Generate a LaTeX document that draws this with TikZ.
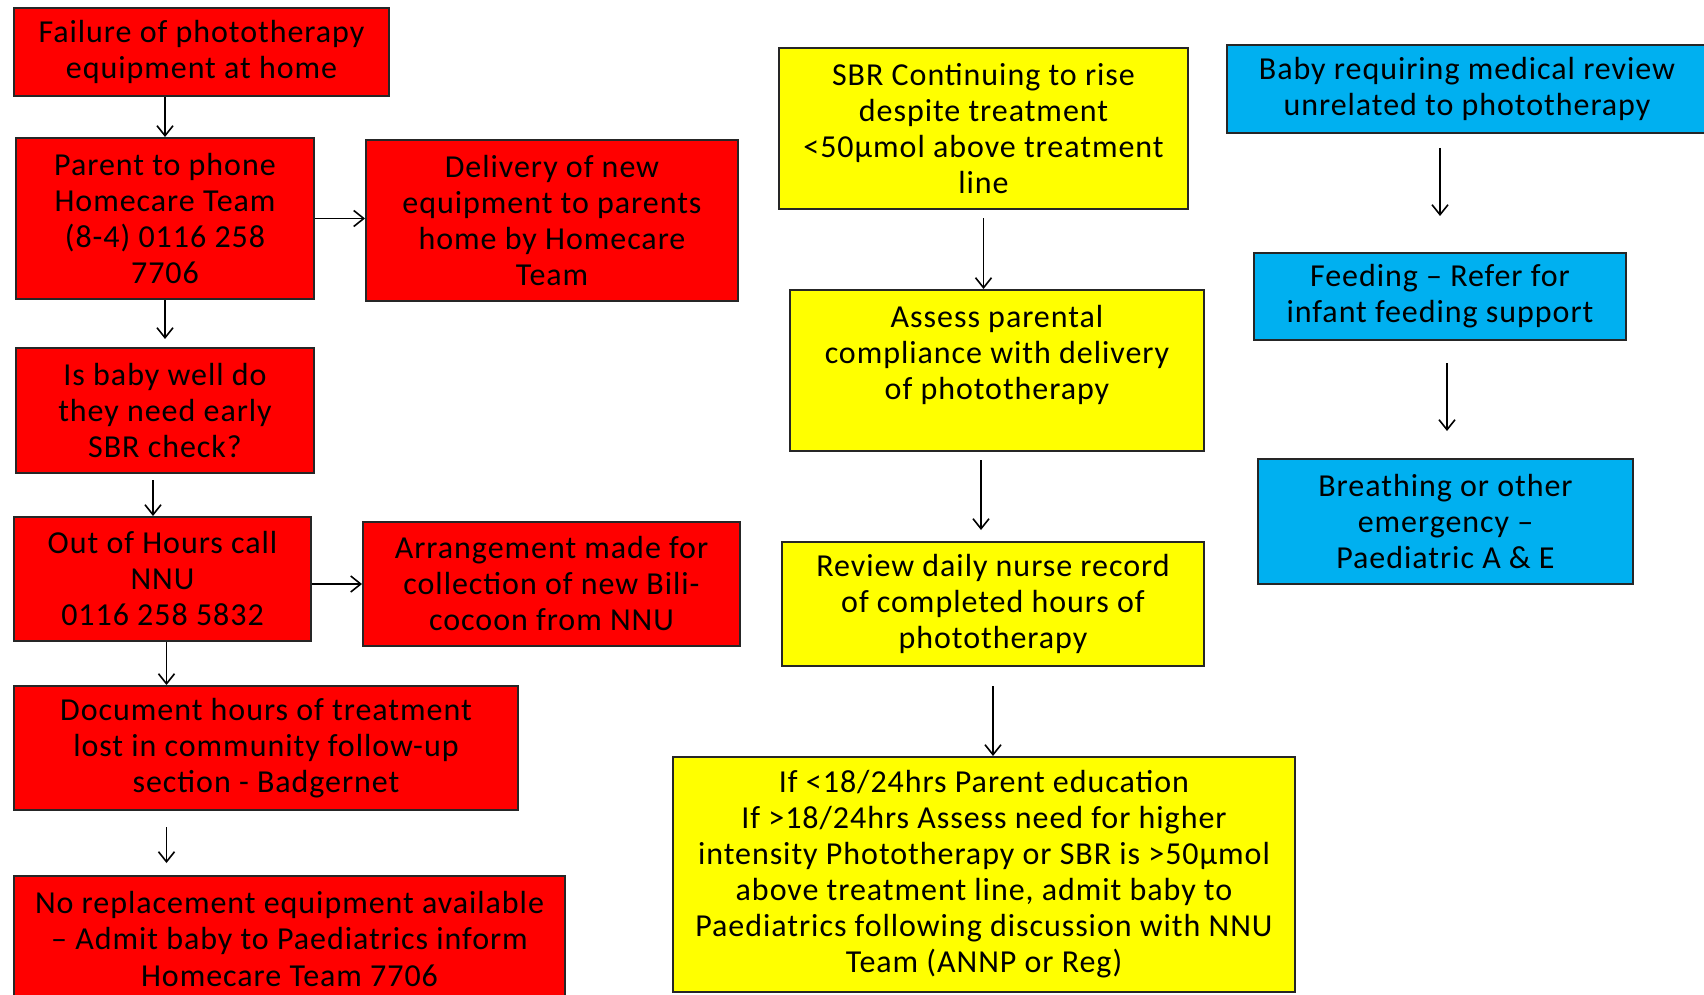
\documentclass[tikz,border=0pt]{standalone}
\usepackage{fontspec}
\setmainfont[LetterSpace=3]{Carlito}
\usepackage{tikz}
\usetikzlibrary{arrows.meta}

\definecolor{boxred}{HTML}{FF0000}
\definecolor{boxyellow}{HTML}{FFFF00}
\definecolor{boxblue}{HTML}{00B0F0}

\tikzset{
  box/.style={draw=black!85, line width=1pt, align=center, inner sep=0pt,
    font=\fontsize{16pt}{18pt}\selectfont},
  redbox/.style={box, fill=boxred},
  yellowbox/.style={box, fill=boxyellow},
  bluebox/.style={box, fill=boxblue},
  arr/.style={->, line width=0.8pt}
}

\begin{document}
\begin{tikzpicture}[x=0.5pt, y=-0.5pt, >={Straight Barb[length=5pt,width=8pt]}]

    \useasboundingbox (0,0) rectangle (1704,995);
    \clip (0,0) rectangle (1704,995);

    % left column
    \node[redbox, minimum width=187.5pt, minimum height=44pt] (fail) at (201.5, 52) {Failure of phototherapy\\equipment at home};
    \node[redbox, minimum width=149pt, minimum height=80.5pt] (phone) at (165, 218.5) {Parent to phone\\Homecare Team\\(8-4) 0116 258\\7706};
    \node[redbox, minimum width=186pt, minimum height=80.5pt] (deliv) at (552, 220.5) {Delivery of new\\equipment to parents\\home by Homecare\\Team};
    \node[redbox, minimum width=149pt, minimum height=62.5pt] (well) at (165, 410.5) {Is baby well do\\they need early\\SBR check?};
    \node[redbox, minimum width=148.5pt, minimum height=62pt] (ooh) at (162.5, 579) {Out of Hours call\\NNU\\0116 258 5832};
    \node[redbox, minimum width=188.5pt, minimum height=62pt] (arrange) at (551.5, 584) {Arrangement made for\\collection of new Bili-\\cocoon from NNU};
    \node[redbox, minimum width=252pt, minimum height=62pt] (doc) at (266, 748) {Document hours of treatment\\lost in community follow-up\\section - Badgernet};
    \node[redbox, minimum width=275.5pt, minimum height=63pt] (norepl) at (289.5, 939) {No replacement equipment available\\– Admit baby to Paediatrics inform\\Homecare Team  7706};

    % middle column
    \node[yellowbox, minimum width=204.5pt, minimum height=80.5pt] (sbr) at (983.5, 128.5) {SBR Continuing to rise\\despite treatment\\<50µmol above treatment\\line};
    \node[yellowbox, minimum width=207pt, minimum height=80.5pt] (assess) at (997, 370.5) {Assess parental\\compliance with delivery\\of phototherapy\\\mbox{}};
    \node[yellowbox, minimum width=211pt, minimum height=62pt] (review) at (993, 604) {Review daily nurse record\\of completed hours of\\phototherapy};
    \node[yellowbox, minimum width=311pt, minimum height=117.5pt] (ifbox) at (984, 874.5) {If <18/24hrs Parent education\\If >18/24hrs Assess need for higher\\intensity Phototherapy or SBR is >50µmol\\above treatment  line, admit baby to\\Paediatrics following discussion with NNU\\Team (ANNP  or Reg)};

    % right column
    \node[bluebox, minimum width=240pt, minimum height=44pt] (medrev) at (1467, 89) {Baby requiring medical review\\unrelated to phototherapy};
    \node[bluebox, minimum width=186pt, minimum height=43.5pt] (feed) at (1440, 296.5) {Feeding – Refer for\\infant feeding support};
    \node[bluebox, minimum width=187.5pt, minimum height=62.5pt] (breath) at (1445.5, 521.5) {Breathing or other\\emergency –\\Paediatric A \& E};

    % connectors
    \draw[arr] (fail.south -| phone) -- (phone.north);
    \draw[arr] (phone.east) -- (phone.east -| deliv.west);
    \draw[arr, shorten >=4pt] (phone.south) -- (well.north);
    \draw[arr, shorten <=3pt] ([xshift=-6pt]well.south) -- ([xshift=-6pt]well.south |- ooh.north);
    \draw[arr] (ooh.east |- arrange) -- (arrange.west);
    \draw[arr] ([xshift=2pt]ooh.south) -- ([xshift=2pt]ooh.south |- doc.north);
    \draw[arr, shorten <=8pt, shorten >=6pt] ([xshift=2pt]ooh.south |- doc.south) -- ([xshift=2pt]ooh.south |- norepl.north);

    \draw[arr, shorten <=4pt] (sbr.south) -- (sbr.south |- assess.north);
    \draw[arr, shorten <=4pt, shorten >=5.5pt] ([xshift=-8pt]assess.south) -- ([xshift=-8pt]assess.south |- review.north);
    \draw[arr, shorten <=9.5pt] (review.south) -- (review.south |- ifbox.north);

    \draw[arr, shorten <=7pt, shorten >=18pt] (medrev.south -| feed) -- (feed.north);
    \draw[arr, shorten <=11pt, shorten >=13.5pt] ([xshift=3.5pt]feed.south) -- ([xshift=3.5pt]feed.south |- breath.north);

\end{tikzpicture}
\end{document}
